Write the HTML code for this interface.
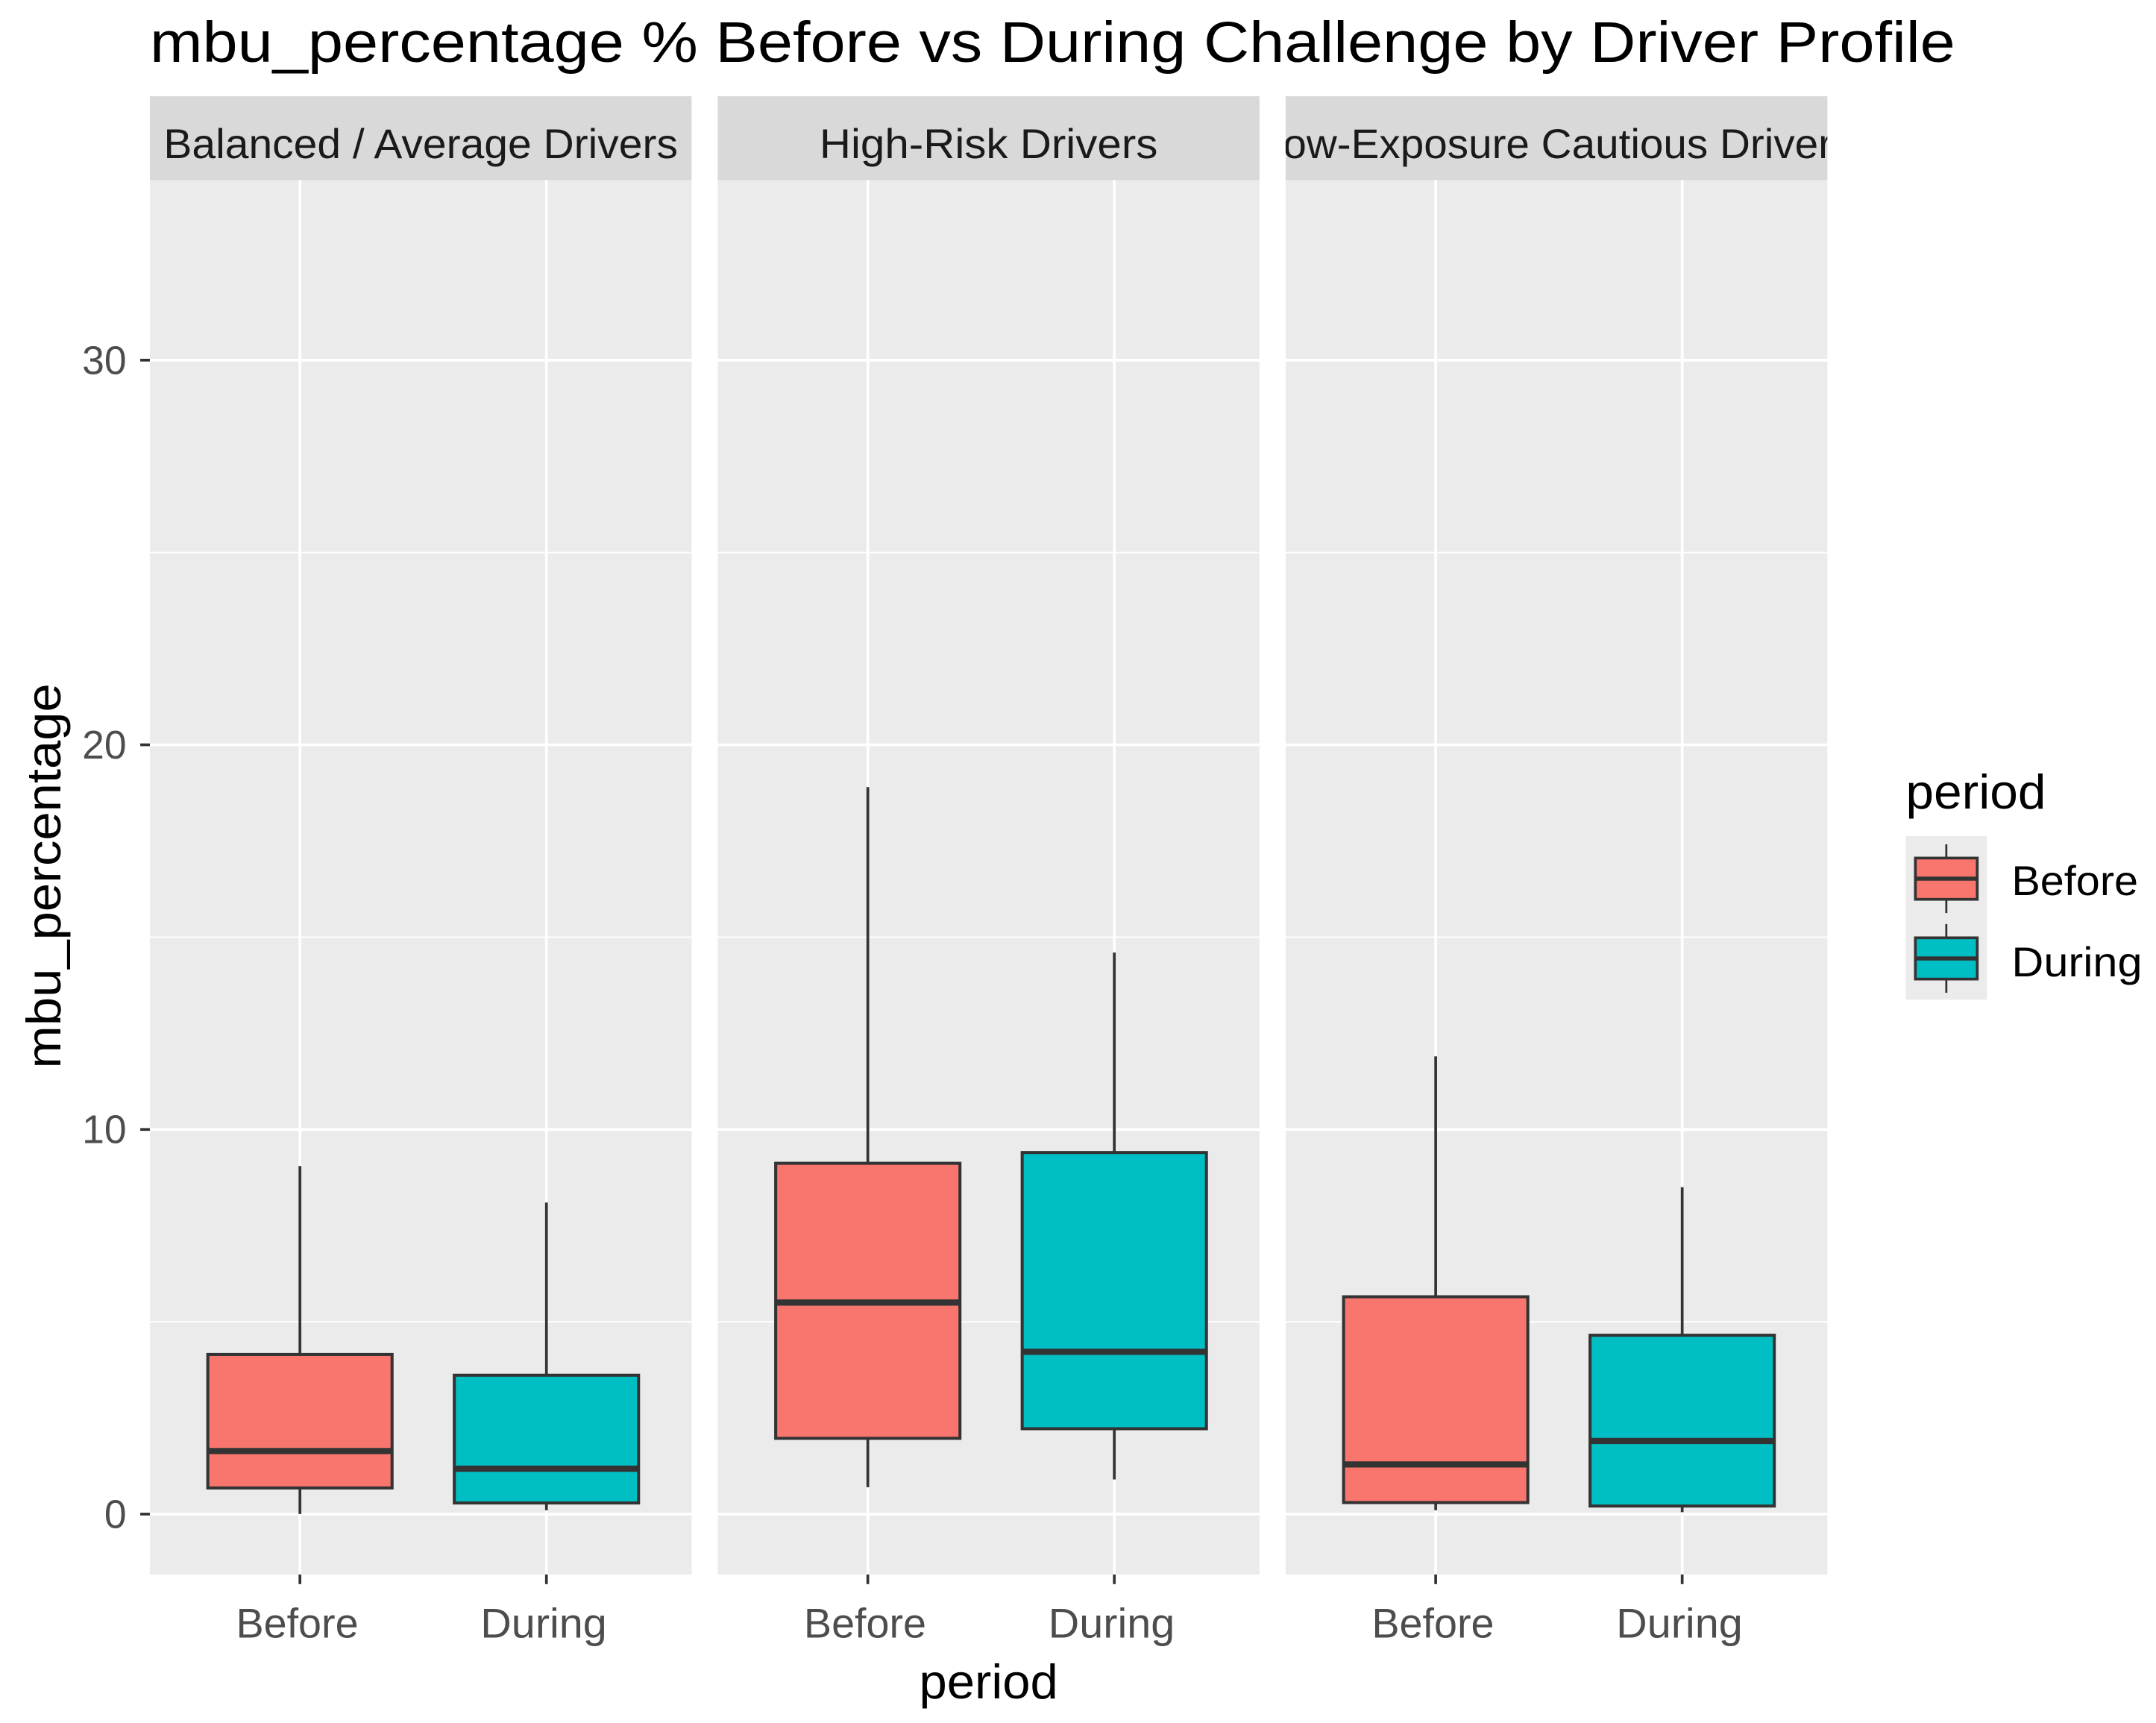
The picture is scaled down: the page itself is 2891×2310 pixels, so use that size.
<!DOCTYPE html>
<html><head><meta charset="utf-8"><style>
html,body{margin:0;padding:0;background:#fff}
svg{display:block}
text{font-family:"Liberation Sans",Arial,sans-serif}
</style></head><body>
<svg id="chart" width="2891" height="2310" viewBox="0 0 1568 1253" preserveAspectRatio="none">
<rect x="0" y="0" width="1568" height="1253" fill="#fff"/>
<text x="109" y="45" font-size="42" textLength="1313" lengthAdjust="spacingAndGlyphs" fill="#000">mbu_percentage % Before vs During Challenge by Driver Profile</text>
<g id="panels"></g>
<text x="719" y="1235" font-size="35" textLength="101" lengthAdjust="spacingAndGlyphs" text-anchor="middle" fill="#000">period</text>
<text transform="translate(44,637) rotate(-90)" font-size="35" textLength="280" lengthAdjust="spacingAndGlyphs" text-anchor="middle" fill="#000">mbu_percentage</text>
<g id="yticks"></g>
<g>
<text x="1386" y="588" font-size="35" textLength="102" lengthAdjust="spacingAndGlyphs" fill="#000">period</text>
<rect x="1386" y="608" width="59" height="119" fill="#ebebeb"/>
<g>
<line x1="1415.5" y1="614" x2="1415.5" y2="664" stroke="#333" stroke-width="1.5"/>
<rect x="1393" y="624" width="45" height="30" fill="#F8766D" stroke="#333" stroke-width="2"/>
<line x1="1393" y1="639" x2="1438" y2="639" stroke="#333" stroke-width="3"/>
<text x="1463" y="651" font-size="30" textLength="92" lengthAdjust="spacingAndGlyphs" fill="#000">Before</text></g>
<g>
<line x1="1415.5" y1="672" x2="1415.5" y2="722" stroke="#333" stroke-width="1.5"/>
<rect x="1393" y="682" width="45" height="30" fill="#00BFC4" stroke="#333" stroke-width="2"/>
<line x1="1393" y1="697" x2="1438" y2="697" stroke="#333" stroke-width="3"/>
<text x="1463" y="710" font-size="30" textLength="95" lengthAdjust="spacingAndGlyphs" fill="#000">During</text></g>
</g>
</svg>
<script>
const panelNames = ["Balanced / Average Drivers","High-Risk Drivers","Low-Exposure Cautious Drivers"];
const periods = ["Before","During"];
const whiskerLow = [[0.0,0.1],[0.7,0.9],[0.1,0.05]];
const q1 = [[0.68,0.29],[1.97,2.22],[0.3,0.21]];
const medians = [[1.64,1.18],[5.5,4.22],[1.29,1.9]];
const q3 = [[4.15,3.61],[9.12,9.4],[5.65,4.65]];
const whiskerHigh = [[9.05,8.1],[18.9,14.6],[11.9,8.5]];
const yTicks = [0,10,20,30];
const yMinor = [5,15,25];
const colors = ["#F8766D","#00BFC4"];
const stripWidths = [374,246,432];

const NS="http://www.w3.org/2000/svg";
const yMin=-1.57, yMax=34.68, pTop=131, pBot=1145;
function Y(v){return pBot-(v-yMin)/(yMax-yMin)*(pBot-pTop);}
const panelX=[109,522,935], pW=394;
function X(p,i){return panelX[p]+pW*(i===0?0.277:0.732);}
function mk(tag,attrs,parent){const e=document.createElementNS(NS,tag);for(const k in attrs)e.setAttribute(k,attrs[k]);parent.appendChild(e);return e;}
const g=document.getElementById('panels');
panelNames.forEach((name,p)=>{
  const pg=mk('g',{},g);
  
  
  const x0=panelX[p];
  const bg=mk('rect',{x:x0,y:pTop,width:pW,height:pBot-pTop,fill:'#ebebeb'},pg);
  
  
  const strip=mk('rect',{x:x0,y:70,width:pW,height:61,fill:'#d9d9d9'},pg);
  
  
  const cp=mk('clipPath',{id:'cp'+p},pg);mk('rect',{x:x0,y:70,width:pW,height:61},cp);
  const st=mk('text',{x:x0+pW/2,y:115,'font-size':30,textLength:stripWidths[p],lengthAdjust:'spacingAndGlyphs','text-anchor':'middle',fill:'#1a1a1a','clip-path':'url(#cp'+p+')'},pg);
  st.textContent=name;
  
  
  yMinor.forEach(v=>mk('line',{x1:x0,x2:x0+pW,y1:Y(v),y2:Y(v),stroke:'#fff','stroke-width':1},pg));
  yTicks.forEach(v=>mk('line',{x1:x0,x2:x0+pW,y1:Y(v),y2:Y(v),stroke:'#fff','stroke-width':2},pg));
  periods.forEach((per,i)=>mk('line',{x1:X(p,i),x2:X(p,i),y1:pTop,y2:pBot,stroke:'#fff','stroke-width':2},pg));
  periods.forEach((per,i)=>{
    const cx=X(p,i), hw=67;
    const bx=mk('g',{},pg);
    
    
    mk('line',{x1:cx,x2:cx,y1:Y(whiskerLow[p][i]),y2:Y(whiskerHigh[p][i]),stroke:'#333','stroke-width':2},bx);
    mk('rect',{x:cx-hw,y:Y(q3[p][i]),width:2*hw,height:Y(q1[p][i])-Y(q3[p][i]),fill:colors[i],stroke:'#333','stroke-width':2.2},bx);
    mk('line',{x1:cx-hw,x2:cx+hw,y1:Y(medians[p][i]),y2:Y(medians[p][i]),stroke:'#333','stroke-width':4.5},bx);
    mk('line',{x1:cx,x2:cx,y1:pBot,y2:pBot+7,stroke:'#333','stroke-width':2},pg);
    const t=mk('text',{x:cx-2,y:1191,'font-size':30,textLength:(i===0?89:92),lengthAdjust:'spacingAndGlyphs','text-anchor':'middle',fill:'#4d4d4d'},pg);
    t.textContent=per;
    
    
  });
});
const yt=document.getElementById('yticks');
yTicks.forEach(v=>{
  mk('line',{x1:102,x2:109,y1:Y(v),y2:Y(v),stroke:'#333','stroke-width':2},yt);
  const t=mk('text',{x:92,y:Y(v)+10,'font-size':29,'text-anchor':'end',fill:'#4d4d4d'},yt);
  t.textContent=v;
  
  
});
</script>
</body></html>
